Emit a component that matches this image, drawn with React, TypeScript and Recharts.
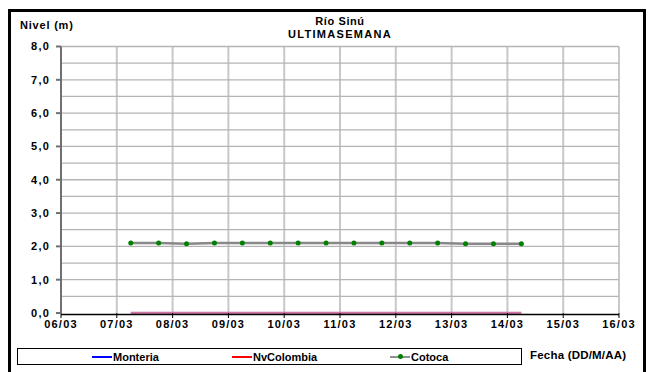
import { CartesianGrid, Line, LineChart, ReferenceLine, XAxis, YAxis } from "recharts";

const dateLabels = ["06/03", "07/03", "08/03", "09/03", "10/03", "11/03", "12/03", "13/03", "14/03", "15/03", "16/03"];

const readingTimes = [
  "07/03 06:00", "07/03 18:00", "08/03 06:00", "08/03 18:00", "09/03 06:00",
  "09/03 18:00", "10/03 06:00", "10/03 18:00", "11/03 06:00", "11/03 18:00",
  "12/03 06:00", "12/03 18:00", "13/03 06:00", "13/03 18:00", "14/03 06:00",
];

const monteria = [0, 0, 0, 0, 0, 0, 0, 0, 0, 0, 0, 0, 0, 0, 0];
const nvColombia = [0, 0, 0, 0, 0, 0, 0, 0, 0, 0, 0, 0, 0, 0, 0];
const cotoca = [2.1, 2.1, 2.08, 2.1, 2.1, 2.1, 2.1, 2.1, 2.1, 2.1, 2.1, 2.1, 2.08, 2.08, 2.08];

const yTicks = [0, 1, 2, 3, 4, 5, 6, 7, 8];
const yGridValues = [0.5, 1, 1.5, 2, 2.5, 3, 3.5, 4, 4.5, 5, 5.5, 6, 6.5, 7, 7.5, 8];
const xTicks = dateLabels.map((_, i) => i);

// days since 06/03 00:00
function toDays(stamp: string): number {
  const [date, time] = stamp.split(" ");
  const day = parseInt(date.split("/")[0], 10);
  const hour = parseInt(time.split(":")[0], 10);
  return day - 6 + hour / 24;
}

const data = readingTimes.map((t, i) => ({
  t: toDays(t),
  monteria: monteria[i],
  nvColombia: nvColombia[i],
  cotoca: cotoca[i],
}));

const FONT = "'Liberation Sans', Arial, sans-serif";
const tickStyle = { fontSize: 11, fontWeight: "bold", fill: "#000", fontFamily: FONT };

function LegendItem({ color, label, dot, left }: { color: string; label: string; dot?: boolean; left: number }) {
  return (
    <div style={{ position: "absolute", left, top: 0, height: 15, display: "flex", alignItems: "center" }}>
      <div style={{ position: "relative", width: 20, height: 2, background: color }}>
        {dot ? (
          <div
            style={{ position: "absolute", left: 8, top: -2, width: 5, height: 5, borderRadius: 3, background: "#008000" }}
          />
        ) : null}
      </div>
      <span style={{ marginLeft: 1 }}>{label}</span>
    </div>
  );
}

export default function App() {
  return (
    <div
      style={{
        position: "absolute",
        left: 0,
        top: 0,
        width: 649,
        height: 372,
        overflow: "hidden",
        background: "#fff",
        fontFamily: FONT,
        fontWeight: "bold",
        color: "#000",
      }}
    >
      <style>{`.recharts-cartesian-axis-tick-value { letter-spacing: 1.2px; }`}</style>
      <div
        style={{
          position: "absolute",
          left: 8,
          top: 9,
          width: 638,
          height: 380,
          border: "3px solid #000",
          boxSizing: "border-box",
        }}
      />
      <div style={{ position: "absolute", left: 0, top: 0 }}>
        <LineChart width={649} height={372} data={data} margin={{ top: 46.5, right: 30, bottom: 39, left: 0 }}>
          <CartesianGrid horizontal={false} verticalValues={xTicks} stroke="#c8c8c8" strokeWidth={2} />
          {yGridValues.map((v) => (
            <ReferenceLine key={v} y={v} stroke="#b4b4b4" strokeWidth={1.3} ifOverflow="extendDomain" />
          ))}
          <XAxis
            dataKey="t"
            type="number"
            domain={[0, 10]}
            ticks={xTicks}
            tickFormatter={(v: number) => dateLabels[v] ?? ""}
            interval={0}
            height={20}
            tick={tickStyle}
            tickSize={5}
            tickMargin={2}
            axisLine={{ stroke: "#000", strokeWidth: 1.5, transform: "translate(0 1.5)" }}
            tickLine={{ stroke: "#000" }}
          />
          <YAxis
            type="number"
            domain={[0, 8]}
            ticks={yTicks}
            tickFormatter={(v: number) => v.toFixed(1).replace(".", ",")}
            interval={0}
            width={61}
            tick={tickStyle}
            tickSize={5}
            tickMargin={6}
            stroke="#707070"
            strokeWidth={2}
          />
          {/* Monteria and NvColombia overlap at 0, which gives the pink line */}
          <Line
            dataKey="monteria"
            stroke="#b4b4ff"
            strokeWidth={2.5}
            dot={false}
            isAnimationActive={false}
          />
          <Line
            dataKey="nvColombia"
            stroke="#ff0000"
            strokeOpacity={0.35}
            strokeWidth={2.5}
            dot={false}
            isAnimationActive={false}
          />
          <Line
            dataKey="cotoca"
            stroke="#888888"
            strokeWidth={2.5}
            dot={{ r: 2.5, fill: "#008000", stroke: "#008000", strokeWidth: 0 }}
            isAnimationActive={false}
          />
        </LineChart>
      </div>
      <div style={{ position: "absolute", left: 20, top: 19, fontSize: 11, letterSpacing: 0.8 }}>Nivel (m)</div>
      <div
        style={{
          position: "absolute",
          left: 240,
          width: 200,
          top: 15,
          textAlign: "center",
          fontSize: 11,
          lineHeight: "12.5px",
          letterSpacing: 0.6,
        }}
      >
        <div>Río Sinú</div>
        <div style={{ letterSpacing: 1.3 }}>ULTIMASEMANA</div>
      </div>
      <div
        style={{
          position: "absolute",
          left: 17,
          top: 348,
          width: 505,
          height: 17,
          border: "1px solid #000",
          boxSizing: "border-box",
          fontSize: 11,
        }}
      >
        <LegendItem color="#0000ff" label="Monteria" left={74} />
        <LegendItem color="#ff0000" label="NvColombia" left={214} />
        <LegendItem color="#909090" label="Cotoca" dot left={372} />
      </div>
      <div style={{ position: "absolute", left: 530, top: 349, fontSize: 11.5, letterSpacing: 0.2 }}>
        Fecha (DD/M/AA)
      </div>
    </div>
  );
}
